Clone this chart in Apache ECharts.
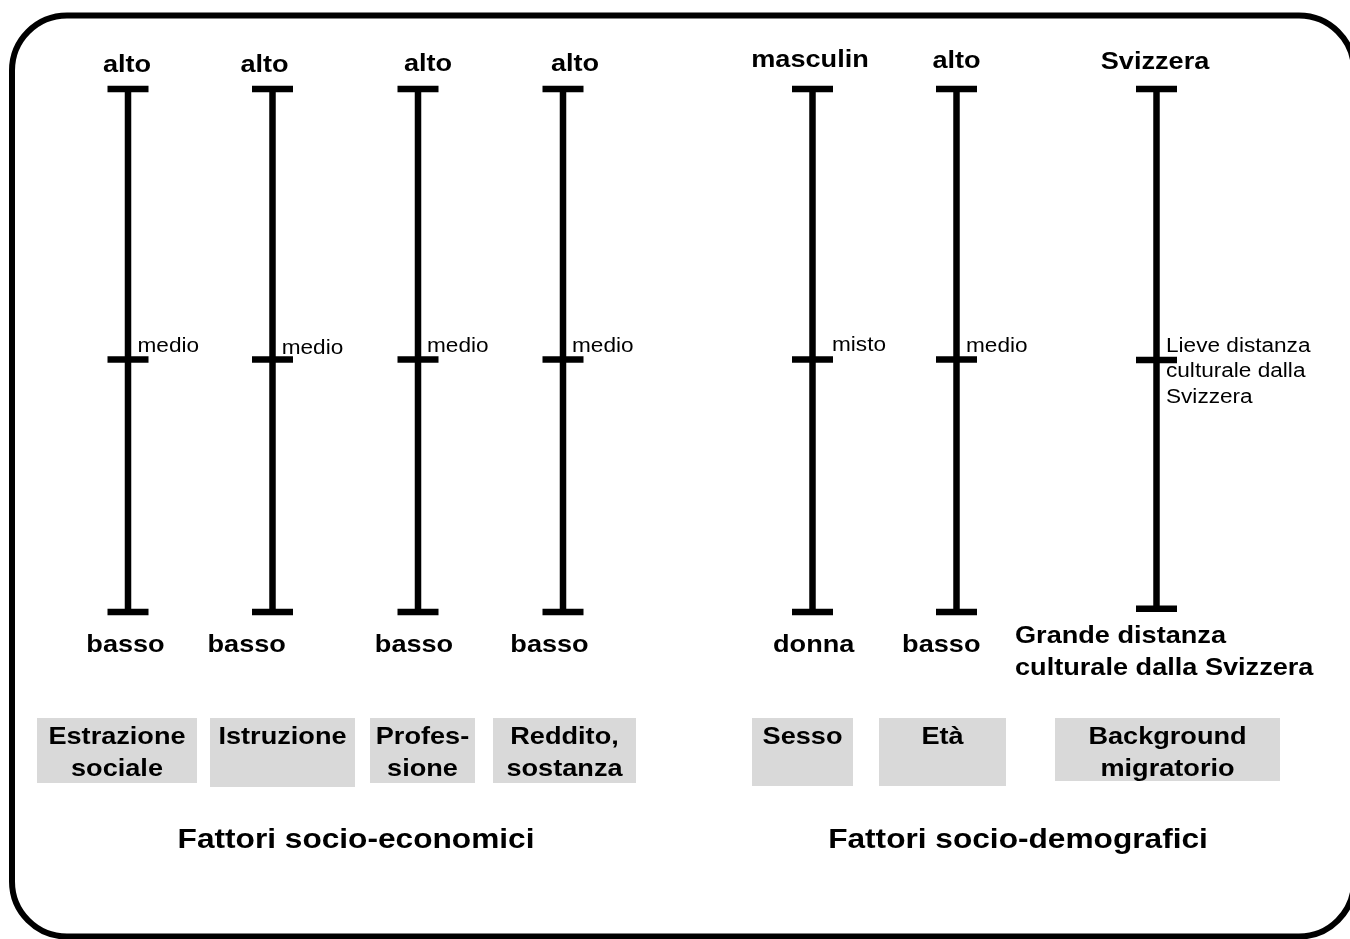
<!DOCTYPE html>
<html>
<head>
<meta charset="utf-8">
<script src="https://cdn.jsdelivr.net/npm/echarts@6/dist/echarts.min.js"></script>
<style>
html,body{margin:0;padding:0;background:#fff;}
#chart{width:1350px;height:939px;}
</style>
</head>
<body>
<div id="chart"></div>
<script>
// ---- data ----
const categories = ['Estrazione\nsociale', 'Istruzione', 'Profes-\nsione', 'Reddito,\nsostanza', 'Sesso', 'Età', 'Background\nmigratorio'];
const topLabels = ['alto', 'alto', 'alto', 'alto', 'masculin', 'alto', 'Svizzera'];
const midLabels = ['medio', 'medio', 'medio', 'medio', 'misto', 'medio', 'Lieve distanza\nculturale dalla\nSvizzera'];
const bottomLabels = ['basso', 'basso', 'basso', 'basso', 'donna', 'basso', 'Grande distanza\nculturale dalla Svizzera'];
const highValues = [1, 1, 1, 1, 1, 1, 1];
const midValues = [0.483, 0.483, 0.483, 0.483, 0.483, 0.483, 0.482];
const lowValues = [0, 0, 0, 0, 0, 0, 0.006];
const groupTitles = ['Fattori socio-economici', 'Fattori socio-demografici'];

// ---- layout (positions / sizes) ----
const barX = [128, 272.5, 418, 563, 812.5, 956.5, 1156.5];
const topDx = [-1, -8, 10, 12, -2.5, 0, -1.5];
const topDy = [-24, -24, -25, -25, -29, -28, -27];
const midDx = [9.5, 9.2, 9, 9, 19.5, 9.5, 9.5];
const midDy = [-12.5, -10.5, -13, -13, -14, -13, -13.5];
const botDx = [-2.5, -25.8, -4, -13.5, 1.2, -15.2, -141.5];
const botDy = [33, 33, 33, 33, 33, 33, 12];
const botAlign = ['center', 'center', 'center', 'center', 'center', 'center', 'left'];
const boxes = [[37, 718, 160, 65], [210, 718, 145, 69], [370, 718, 105, 65], [493, 718, 143, 65],
               [752, 718, 101, 68], [879, 718, 127, 68], [1055, 718, 225, 63]];
const groupPos = [[356, 840], [1018, 840]];

const FONT = "'Liberation Sans', Arial, sans-serif";
const SX = 1.13;
const STEM = 6.5, TICKW = 41, TICKH = 6.5;

function txt(x, y, text, size, bold, align, vAlign, lh) {
  return {
    type: 'text', x: x, y: y, scaleX: SX, scaleY: 1,
    style: {
      x: 0, y: 0, text: text, fill: '#000',
      font: (bold ? 'bold ' : '') + size + 'px ' + FONT,
      align: align, verticalAlign: vAlign, lineHeight: lh || Math.round(size * 1.3)
    }
  };
}

function renderItem(params, api) {
  const i = params.dataIndex;
  const pTop = api.coord([barX[i], api.value(3)]);
  const pMid = api.coord([barX[i], api.value(2)]);
  const pBot = api.coord([barX[i], api.value(1)]);
  const x = pTop[0];
  const children = [
    { type: 'rect', shape: { x: x - STEM / 2, y: pTop[1], width: STEM, height: pBot[1] - pTop[1] }, style: { fill: '#000' } },
    { type: 'rect', shape: { x: x - TICKW / 2, y: pTop[1] - TICKH / 2, width: TICKW, height: TICKH }, style: { fill: '#000' } },
    { type: 'rect', shape: { x: x - TICKW / 2, y: pMid[1] - TICKH / 2, width: TICKW, height: TICKH }, style: { fill: '#000' } },
    { type: 'rect', shape: { x: x - TICKW / 2, y: pBot[1] - TICKH / 2, width: TICKW, height: TICKH }, style: { fill: '#000' } },
    txt(x + topDx[i], pTop[1] + topDy[i], topLabels[i], 24, true, 'center', 'middle'),
  ];
  children.push(txt(x + midDx[i], pMid[1] + midDy[i] - 12.75, midLabels[i], 20, false, 'left', 'top', 25.5));
  if (botAlign[i] === 'left') {
    children.push(txt(x + botDx[i], pBot[1] + botDy[i], bottomLabels[i], 24, true, 'left', 'top', 31.7));
  } else {
    children.push(txt(x + botDx[i], pBot[1] + botDy[i], bottomLabels[i], 24, true, 'center', 'middle'));
  }
  return { type: 'group', children: children };
}

const graphic = [
  { type: 'rect', z: 0, shape: { x: 12, y: 15.5, width: 1342, height: 921, r: 55 },
    style: { fill: 'none', stroke: '#000', lineWidth: 6 } }
];
boxes.forEach(function (b, i) {
  graphic.push({ type: 'rect', z: 1, shape: { x: b[0], y: b[1], width: b[2], height: b[3] }, style: { fill: '#d9d9d9' } });
  graphic.push({ type: 'text', z: 2, x: b[0] + b[2] / 2, y: b[1] + 3, scaleX: SX,
    style: { x: 0, y: 0, text: categories[i], fill: '#000', font: 'bold 24px ' + FONT,
      align: 'center', verticalAlign: 'top', lineHeight: 32 } });
});
groupTitles.forEach(function (t, i) {
  graphic.push({ type: 'text', z: 2, x: groupPos[i][0], y: groupPos[i][1], scaleX: SX,
    style: { x: 0, y: 0, text: t, fill: '#000', font: 'bold 28px ' + FONT, align: 'center', verticalAlign: 'middle' } });
});

const chart = echarts.init(document.getElementById('chart'), null, { renderer: 'canvas' });
chart.setOption({
  animation: false,
  backgroundColor: '#fff',
  grid: { left: 0, right: 0, top: 89, bottom: 327 },
  xAxis: { type: 'value', min: 0, max: 1350, show: false },
  yAxis: { type: 'value', min: 0, max: 1, show: false },
  graphic: graphic,
  series: [{
    type: 'custom',
    renderItem: renderItem,
    clip: false,
    encode: { x: 0, y: [1, 2, 3] },
    data: categories.map(function (c, i) { return [i, lowValues[i], midValues[i], highValues[i]]; })
  }]
});
</script>
</body>
</html>
